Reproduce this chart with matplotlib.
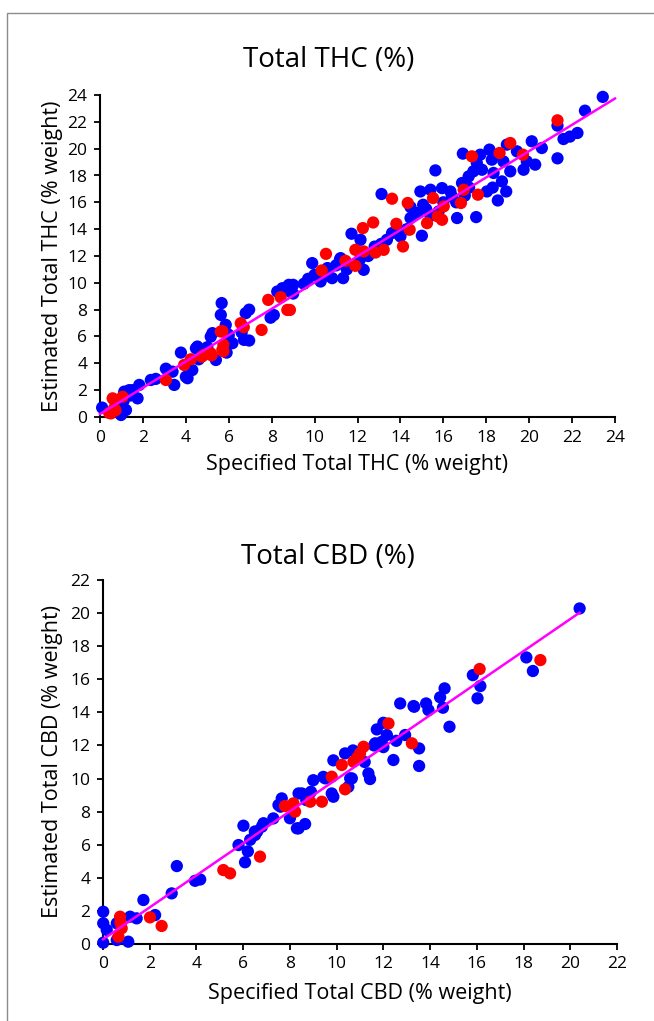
import numpy as np
import matplotlib
matplotlib.use('Agg')
from matplotlib import pyplot as plt
from matplotlib.patches import Rectangle

# ---------------------------------------------------------------------------
# Data
# ---------------------------------------------------------------------------
thc_blue_x = [0.1, 0.98, 1.21, 1.13, 1.36, 1.52, 1.83, 1.75, 1.4, 0.9, 1.1,
              2.37, 2.6, 3.07, 3.46, 3.38, 3.77, 4.0, 4.08, 4.3, 4.47, 4.6, 4.54,
              4.7, 5.0, 5.24, 5.16, 5.4, 5.67, 5.63, 5.9, 5.94, 5.86, 6.0, 6.17,
              6.6, 6.79, 6.95, 6.71, 6.95, 7.95, 8.1, 8.26, 8.5, 8.8, 9.0, 8.9,
              9.0, 9.5, 9.89, 10.28, 10.6, 10.45, 10.82, 11.18, 11.33, 11.5,
              11.72, 11.21, 12.29, 12.14, 12.1, 12.8, 13.1, 13.37, 13.12, 13.61,
              13.84, 14.0, 14.47, 14.47, 14.78, 14.93, 15.0, 15.06, 15.4, 15.4,
              15.63, 15.78, 15.94, 16.33, 16.4, 16.64, 16.87, 16.91, 17.2, 17.18,
              17.4, 17.53, 17.56, 17.72, 17.8, 18.03, 18.15, 18.26, 18.3, 18.34,
              18.54, 18.73, 18.8, 18.93, 18.96, 19.12, 19.43, 19.74, 19.89,
              20.12, 20.28, 20.59, 21.32, 21.32, 21.6, 21.9, 22.25, 22.6, 23.43,
              12.5, 13.0, 14.3, 15.2, 16.0, 16.6, 17.0, 9.7, 10.0, 11.0]
thc_blue_y = [0.7, 0.15, 0.52, 1.89, 2.0, 2.0, 2.39, 1.39, 1.6, 0.9, 1.2,
              2.76, 2.84, 3.6, 2.39, 3.38, 4.8, 3.0, 2.89, 3.5, 5.12, 4.3, 5.25,
              4.5, 5.2, 6.25, 5.99, 4.25, 8.49, 7.61, 4.8, 6.2, 6.87, 6.1, 5.5,
              6.3, 7.74, 8.0, 5.75, 5.7, 7.4, 7.6, 9.35, 9.6, 9.85, 9.85, 9.3,
              9.2, 9.93, 11.47, 10.1, 11.1, 10.5, 10.35, 11.72, 10.35, 11.0,
              13.66, 11.84, 10.97, 13.21, 11.7, 12.7, 12.9, 13.21, 16.62, 13.71,
              13.96, 13.46, 15.65, 14.83, 15.2, 16.81, 13.51, 15.82, 16.94, 15.0,
              18.38, 15.32, 17.06, 16.81, 16.44, 14.83, 17.44, 19.63, 17.1, 17.93,
              18.31, 14.9, 18.93, 19.55, 18.43, 16.81, 19.93, 19.18, 17.1, 18.19,
              16.14, 17.56, 19.05, 16.81, 20.3, 18.31, 19.8, 18.43, 19.05,
              20.55, 18.81, 20.05, 21.72, 19.28, 20.72, 20.9, 21.17, 22.83, 23.86,
              12.0, 12.5, 14.0, 15.5, 16.0, 16.0, 16.5, 10.3, 10.6, 11.3]

thc_red_x = [0.43, 0.51, 0.59, 0.66, 0.72, 1.05, 0.67, 3.07, 3.92, 4.23, 4.74,
             4.85, 5.16, 5.2, 5.63, 5.7, 5.7, 5.75, 5.75, 6.56, 6.7, 7.53, 7.84,
             8.42, 8.73, 8.85, 10.33, 10.53, 11.44, 11.9, 11.9, 12.25, 12.29,
             12.73, 12.84, 13.22, 13.61, 13.81, 14.12, 14.34, 14.43, 15.24,
             15.52, 15.74, 15.94, 16.02, 16.82, 16.95, 17.33, 17.61, 18.62,
             19.12, 19.71, 21.32]
thc_red_y = [0.3, 0.27, 1.39, 0.65, 0.5, 1.51, 1.27, 2.76, 3.88, 4.3, 4.5,
             4.63, 4.75, 4.6, 6.37, 6.4, 5.0, 5.4, 4.9, 6.99, 6.7, 6.49, 8.73,
             8.93, 7.98, 7.98, 10.92, 12.16, 11.64, 11.27, 12.46, 14.08, 12.34,
             14.5, 12.26, 12.46, 16.27, 14.4, 12.71, 15.95, 13.96, 14.45,
             16.32, 14.95, 14.7, 15.7, 15.95, 16.94, 19.43, 16.57, 19.68,
             20.42, 19.55, 22.11]

cbd_blue_x = [0.01, 0.01, 0.01, 0.16, 0.59, 1.08, 0.59, 1.16, 1.44, 1.73, 2.23,
              2.94, 3.16, 3.94, 4.16, 6.01, 5.8, 6.08, 6.2, 6.3, 6.51, 6.6, 6.87,
              7.29, 7.65, 7.6, 8.0, 8.3, 8.65, 8.51, 8.7, 9.0, 8.9, 9.43, 9.86,
              9.86, 10.36, 10.5, 10.65, 10.8, 11.2, 11.36, 11.43, 11.65, 11.72,
              12.0, 12.15, 12.0, 12.43, 12.55, 12.93, 12.72, 13.32, 13.53, 13.53,
              13.83, 13.93, 14.55, 14.43, 14.62, 14.83, 15.83, 16.15, 16.03,
              18.12, 18.4, 20.4, 13.29, 11.93, 11.6, 10.7, 10.58, 9.51, 9.79,
              8.37, 7.51, 8.37, 6.8, 6.5]
cbd_blue_y = [0.08, 1.95, 1.25, 0.85, 0.24, 0.14, 1.25, 1.65, 1.55, 2.66, 1.75,
              3.06, 4.71, 3.82, 3.9, 7.15, 5.98, 4.94, 5.6, 6.3, 6.59, 6.8, 7.3,
              7.59, 8.8, 8.3, 7.6, 6.99, 7.25, 9.1, 8.7, 9.9, 9.2, 10.1, 8.9,
              11.1, 11.52, 9.5, 10.01, 11.6, 11.0, 10.31, 9.97, 12.13, 12.97,
              13.37, 12.63, 11.9, 11.12, 12.28, 12.63, 14.54, 14.34, 11.82, 10.76,
              14.54, 14.14, 14.28, 14.91, 15.45, 13.13, 16.25, 15.59, 14.85,
              17.32, 16.5, 20.28, 14.38, 12.22, 12.0, 11.7, 10.01, 10.01, 9.1,
              9.1, 8.4, 6.99, 7.09, 6.8]

cbd_red_x = [0.73, 0.66, 0.8, 0.75, 2.01, 2.51, 5.15, 5.44, 6.72, 7.79, 8.15,
             8.22, 8.87, 9.37, 9.79, 10.36, 10.22, 10.72, 11.0, 11.15, 10.9,
             12.22, 13.22, 16.12, 18.72]
cbd_red_y = [1.65, 0.44, 0.95, 1.3, 1.61, 1.09, 4.47, 4.27, 5.28, 8.34, 8.5,
             8.0, 8.6, 8.6, 10.11, 9.35, 10.82, 11.02, 11.52, 11.92, 11.3,
             13.33, 12.13, 16.62, 17.16]

# regression lines: slope, intercept, x range
thc_fit = [0.98, 0.22]
thc_fit_x = [0, 24]
cbd_fit = [0.968, 0.28]
cbd_fit_x = [0, 20.4]

plt.rcParams['font.family'] = ['Open Sans', 'DejaVu Sans']


def scatter_panel(ax, bx, by, rx, ry, fit, fit_x, top, xlabel, ylabel, xlab_y, ylab_x):
    ax.scatter(bx, by, s=78, color='#0000FF', edgecolors='none', zorder=3, clip_on=False)
    ax.scatter(rx, ry, s=78, color='#FF0000', edgecolors='none', zorder=4, clip_on=False)
    lx = np.array(fit_x, dtype=float)
    ax.plot(lx, fit[0] * lx + fit[1], color='#FF00FF', lw=1.8, zorder=5, clip_on=False)
    ax.set_xlim(0, top)
    ax.set_ylim(0, top)
    ticks = np.arange(0, top + 1, 2)
    ax.set_xticks(ticks)
    ax.set_yticks(ticks)
    for side in ['top', 'right']:
        ax.spines[side].set_visible(False)
    for side in ['left', 'bottom']:
        ax.spines[side].set_linewidth(1.5)
        ax.spines[side].set_color('black')
    ax.tick_params(direction='out', length=4, width=1.3, labelsize=12.5, pad=5)
    ax.set_xlabel(xlabel, fontsize=15.5)
    ax.set_ylabel(ylabel, fontsize=15.5)
    ax.xaxis.set_label_coords(0.5, xlab_y)
    ax.yaxis.set_label_coords(ylab_x, 0.5)
    ax.xaxis.label.set_va('center')
    ax.yaxis.label.set_va('center')


fig = plt.figure(figsize=(6.54, 10.21), dpi=100)
fig.patches.append(Rectangle((7 / 654, -0.05), 1.2, 1 - 13 / 1021 + 0.05,
                             transform=fig.transFigure, fill=False,
                             edgecolor='#8c8c8c', lw=1.0))

ax1 = fig.add_axes([100 / 654, 1 - 417 / 1021, 515 / 654, 322 / 1021])
scatter_panel(ax1, thc_blue_x, thc_blue_y, thc_red_x, thc_red_y, thc_fit, thc_fit_x, 24,
              'Specified Total THC (% weight)', 'Estimated Total THC (% weight)',
              -0.149, -0.093)
fig.text(0.502, 1 - 60 / 1021, 'Total THC (%)', ha='center', va='center', fontsize=20)

ax2 = fig.add_axes([103 / 654, 1 - 944 / 1021, 514 / 654, 364 / 1021])
scatter_panel(ax2, cbd_blue_x, cbd_blue_y, cbd_red_x, cbd_red_y, cbd_fit, cbd_fit_x, 22,
              'Specified Total CBD (% weight)', 'Estimated Total CBD (% weight)',
              -0.135, -0.099)
fig.text(0.502, 1 - 557 / 1021, 'Total CBD (%)', ha='center', va='center', fontsize=20)

plt.savefig('out.png', dpi=100)
plt.close()
